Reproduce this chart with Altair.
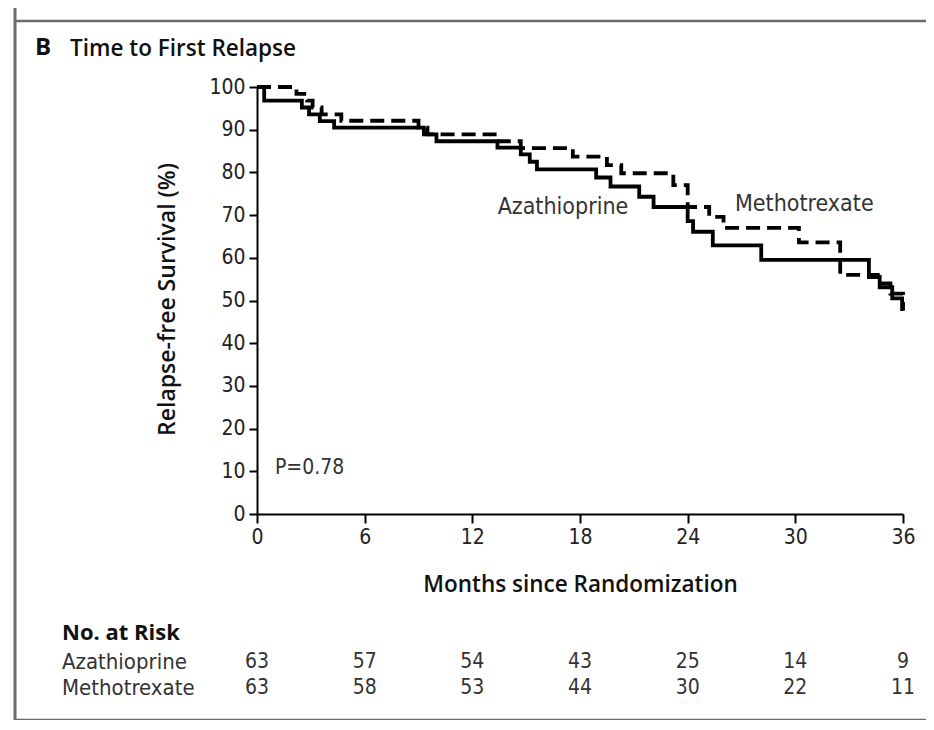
import altair as alt
import pandas as pd

# ---- data ----
aza_months = [0, 0.4, 2.5, 2.9, 3.5, 4.3, 9.3, 10.0, 13.4, 14.7, 15.2, 15.6, 18.9, 19.7, 21.3, 22.1,
              24.0, 24.3, 25.4, 28.1, 34.1, 34.7, 35.4, 35.95, 36.0]
aza_surv = [100, 96.8, 95.2, 93.6, 92.0, 90.5, 88.9, 87.3, 85.8, 84.2, 82.5, 80.7, 78.8, 76.7, 74.3, 71.9,
            68.6, 66.1, 62.9, 59.5, 55.5, 53.1, 50.5, 48.0, 48.0]
mtx_months = [0, 2.2, 2.8, 3.1, 3.6, 4.7, 9.0, 9.5, 13.4, 14.7, 17.6, 19.5, 20.3, 23.2, 24.0, 25.2,
              26.0, 30.2, 32.5, 34.6, 35.3, 36.0]
mtx_surv = [100, 98.4, 96.8, 95.2, 93.6, 92.1, 90.5, 88.9, 87.3, 85.7, 83.7, 81.7, 79.8, 77.0, 71.9, 69.6,
            67.0, 63.6, 56.0, 54.0, 51.6, 47.6]
groups = ["Azathioprine", "Methotrexate"]
risk_months = [0, 6, 12, 18, 24, 30, 36]
aza_risk = [63, 57, 54, 43, 25, 14, 9]
mtx_risk = [63, 58, 53, 44, 30, 22, 11]
x_ticks = [0, 6, 12, 18, 24, 30, 36]
y_ticks = [0, 10, 20, 30, 40, 50, 60, 70, 80, 90, 100]

curves = pd.DataFrame(
    [{"group": groups[0], "month": m, "surv": s} for m, s in zip(aza_months, aza_surv)]
    + [{"group": groups[1], "month": m, "surv": s} for m, s in zip(mtx_months, mtx_surv)]
)
labels = pd.DataFrame({"text": ["Azathioprine", "Methotrexate"], "month": [17.05, 30.5], "surv": [71.8, 72.5]})
pval = pd.DataFrame({"text": ["P=0.78"], "month": [1.0], "surv": [10.8]})
risk = pd.DataFrame(
    [{"group": groups[0], "month": m, "n": n} for m, n in zip(risk_months, aza_risk)]
    + [{"group": groups[1], "month": m, "n": n} for m, n in zip(risk_months, mtx_risk)]
)

NARROW = "'Liberation Sans Narrow', 'DejaVu Sans Condensed', 'Open Sans', sans-serif"
BOLD = "'Open Sans', sans-serif"
W, H = 646, 427

xs = alt.Scale(domain=[0, 36], nice=False, zero=False)
ys = alt.Scale(domain=[0, 100], nice=False)

x_axis = alt.Axis(values=x_ticks, title="Months since Randomization", labelFont=NARROW, labelFontSize=21,
                  labelColor="#222", labelPadding=3, tickSize=9, tickWidth=2, tickColor="black",
                  domainColor="black", domainWidth=2, grid=False, labelFlush=False,
                  titleFont=BOLD, titleFontSize=22.5, titleFontWeight=600, titleColor="#111",
                  titleX=323, titleY=70, titleAlign="center", titleBaseline="middle")
y_axis = alt.Axis(values=y_ticks, title="Relapse-free Survival (%)", labelFont=NARROW, labelFontSize=21,
                  labelColor="#222", labelPadding=4, tickSize=8, tickWidth=2, tickColor="black",
                  domainColor="black", domainWidth=2, grid=False,
                  titleFont=BOLD, titleFontSize=23, titleFontWeight=600, titleColor="#111",
                  titleX=-90, titleY=212, titleAngle=270, titleAlign="center", titleBaseline="middle")

lines = alt.Chart(curves).mark_line(interpolate="step-after", strokeWidth=3.8, strokeCap="butt",
                                    strokeJoin="miter").encode(
    x=alt.X("month:Q", scale=xs, axis=x_axis),
    y=alt.Y("surv:Q", scale=ys, axis=y_axis),
    detail="group:N",
    color=alt.Color("group:N", scale=alt.Scale(domain=groups, range=["black", "black"]), legend=None),
    strokeDash=alt.StrokeDash("group:N", scale=alt.Scale(domain=groups, range=[[1, 0], [14, 7]]), legend=None),
)

curve_labels = alt.Chart(labels).mark_text(font=NARROW, fontSize=23, color="#333", align="center",
                                           baseline="middle").encode(
    x=alt.X("month:Q", scale=xs), y=alt.Y("surv:Q", scale=ys), text="text:N")
p_label = alt.Chart(pval).mark_text(font=NARROW, fontSize=21, color="#333", align="left",
                                    baseline="middle").encode(
    x=alt.X("month:Q", scale=xs), y=alt.Y("surv:Q", scale=ys), text="text:N")

risk_aza = alt.Chart(risk[risk.group == groups[0]]).mark_text(
    font=NARROW, fontSize=21, color="#333", align="center", baseline="middle").encode(
    x=alt.X("month:Q", scale=xs), y=alt.value(575), text="n:Q")
risk_mtx = alt.Chart(risk[risk.group == groups[1]]).mark_text(
    font=NARROW, fontSize=21, color="#333", align="center", baseline="middle").encode(
    x=alt.X("month:Q", scale=xs), y=alt.value(601), text="n:Q")

one = alt.Data(values=[{"a": 1}])


def txt(text, x, y, size, weight="normal", font=NARROW, color="#333"):
    return alt.Chart(one).mark_text(text=text, font=font, fontSize=size, fontWeight=weight, color=color,
                                    align="left", baseline="middle").encode(x=alt.value(x), y=alt.value(y))


row_aza = txt("Azathioprine", -195, 575, 22)
row_mtx = txt("Methotrexate", -195, 601, 22)
no_risk = txt("No. at Risk", -195, 546, 22, weight="bold", font=BOLD, color="#111")
title_b = txt("B", -222, -39, 24, weight="bold", font=BOLD, color="#111")
title_t = txt("Time to First Relapse", -187, -38, 22.5, weight=600, font=BOLD, color="#111")

frame_v = alt.Chart(one).mark_rule(color="#6b6b6b", strokeWidth=3).encode(
    x=alt.value(-242), y=alt.value(-80), y2=alt.value(640))
frame_top = alt.Chart(one).mark_rule(color="#6b6b6b", strokeWidth=2.5).encode(
    x=alt.value(-242), x2=alt.value(700), y=alt.value(-66))
frame_bot = alt.Chart(one).mark_rule(color="#6b6b6b", strokeWidth=2.5).encode(
    x=alt.value(-242), x2=alt.value(700), y=alt.value(633))

# white masks over the faint plot-area border (drawn beneath the curves and axes)
mask_top = alt.Chart(one).mark_rule(color="white", strokeWidth=3).encode(
    x=alt.value(2), x2=alt.value(W + 3), y=alt.value(0))
mask_right = alt.Chart(one).mark_rule(color="white", strokeWidth=3).encode(
    x=alt.value(W), y=alt.value(-2), y2=alt.value(H - 2))

chart = alt.layer(
    mask_top, mask_right, frame_v, frame_top, frame_bot, lines, curve_labels, p_label, risk_aza, risk_mtx,
    row_aza, row_mtx, no_risk, title_b, title_t,
).properties(
    width=W, height=H,
    padding={"left": 249, "top": 79, "right": 23, "bottom": 206},
    autosize=alt.AutoSizeParams(type="none"),
    background="white",
).configure_view(stroke=None).configure_axis(grid=False)

chart.save("out.html", embed_options={"renderer": "svg", "actions": False})
